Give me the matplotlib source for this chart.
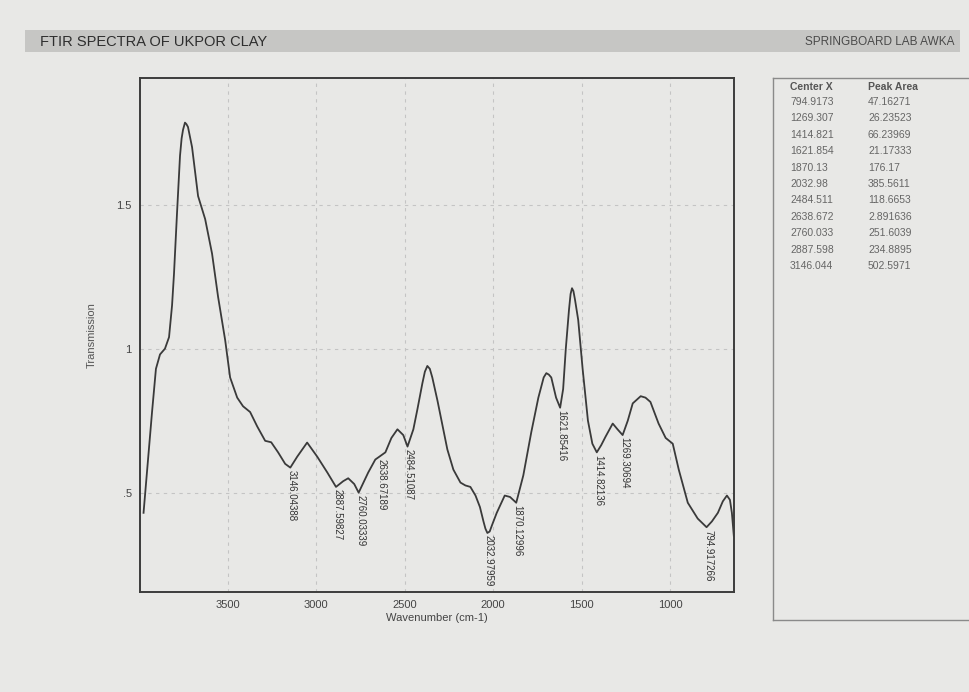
import matplotlib
matplotlib.use("Agg")
import matplotlib.pyplot as plt
from matplotlib.patches import Rectangle

plt.rcParams['font.family'] = ['Liberation Sans', 'DejaVu Sans']

# ---- data ----
wavenumber = [3975, 3927, 3905, 3882, 3854, 3831, 3814, 3803, 3786, 3769, 3760, 3752, 3741, 3733, 3724,
              3701, 3667, 3627, 3588, 3554, 3514, 3486, 3446, 3413, 3373, 3333, 3288, 3254,
              3215, 3175, 3146, 3107, 3051, 2994, 2937, 2888, 2847, 2819, 2785, 2760, 2706,
              2666, 2643, 2609, 2575, 2541, 2508, 2484, 2451, 2428, 2400, 2386, 2372, 2358, 2344, 2315,
              2259, 2225, 2185, 2157, 2129, 2100, 2075, 2055, 2044, 2033, 2020, 2005, 1980, 1935, 1905,
              1870, 1830, 1785, 1745, 1715, 1700, 1686, 1672, 1645, 1622, 1605, 1590, 1572, 1563, 1555,
              1547, 1538, 1520, 1495, 1465, 1440, 1415, 1390, 1365, 1325, 1298, 1269, 1240, 1212, 1167,
              1140, 1112, 1066, 1026, 986, 952, 901, 845, 795, 765, 731, 703, 680, 663, 652, 641]
transmission = [0.43, 0.78, 0.93, 0.98, 1.00, 1.04, 1.15, 1.26, 1.47, 1.67, 1.73, 1.76, 1.785, 1.78, 1.77,
                1.70, 1.53, 1.45, 1.33, 1.18, 1.03, 0.90, 0.83, 0.80, 0.78, 0.73, 0.68, 0.675,
                0.64, 0.60, 0.587, 0.625, 0.674, 0.625, 0.57, 0.52, 0.54, 0.55, 0.53, 0.50, 0.57,
                0.615, 0.625, 0.64, 0.69, 0.72, 0.70, 0.66, 0.72, 0.79, 0.88, 0.92, 0.94, 0.93, 0.90, 0.82,
                0.65, 0.58, 0.535, 0.525, 0.52, 0.49, 0.45, 0.40, 0.375, 0.36, 0.365, 0.39, 0.43, 0.49, 0.485,
                0.465, 0.56, 0.71, 0.83, 0.90, 0.915, 0.91, 0.90, 0.83, 0.795, 0.86, 1.0, 1.135, 1.19, 1.21,
                1.20, 1.17, 1.10, 0.93, 0.75, 0.67, 0.64, 0.665, 0.695, 0.74, 0.72, 0.70, 0.75, 0.81, 0.835,
                0.83, 0.815, 0.74, 0.69, 0.67, 0.58, 0.465, 0.41, 0.38, 0.40, 0.43, 0.47, 0.49, 0.475, 0.43, 0.35]

peak_labels = ['3146.04388', '2887.59827', '2760.03339', '2638.67189', '2484.51087',
               '2032.97959', '1870.12996', '1621.85416', '1414.82136', '1269.30694', '794.917266']
peak_x = [3146.04, 2887.60, 2760.03, 2638.67, 2484.51, 2032.98, 1870.13, 1621.85, 1414.82, 1269.31, 794.92]
peak_y = [0.587, 0.52, 0.50, 0.625, 0.66, 0.36, 0.465, 0.795, 0.64, 0.70, 0.38]

table_center_x = ['794.9173', '1269.307', '1414.821', '1621.854', '1870.13', '2032.98',
                  '2484.511', '2638.672', '2760.033', '2887.598', '3146.044']
table_peak_area = ['47.16271', '26.23523', '66.23969', '21.17333', '176.17', '385.5611',
                   '118.6653', '2.891636', '251.6039', '234.8895', '502.5971']

x_ticks = [3500, 3000, 2500, 2000, 1500, 1000]
y_ticks = [0.5, 1.0, 1.5]
y_tick_labels = ['.5', '1', '1.5']

# ---- figure ----
W, H = 970, 692
paper = '#e8e8e6'
fig = plt.figure(figsize=(W / 100, H / 100), dpi=100, facecolor=paper)

def fx(px):
    return px / W

def fy(py):
    return 1 - py / H

# header band
fig.patches.append(Rectangle((fx(25), fy(52)), fx(935), 22 / H, transform=fig.transFigure,
                             facecolor='#c6c6c4', edgecolor='none', zorder=0))
fig.text(fx(40), fy(42), 'FTIR SPECTRA OF UKPOR CLAY', fontsize=10.5, color='#2e2e2e',
         va='center', ha='left')
fig.text(fx(955), fy(42), 'SPRINGBOARD LAB AWKA', fontsize=8.5, color='#4a4a4a',
         va='center', ha='right')

# main axes
ax = fig.add_axes([fx(140), fy(592), fx(734 - 140), (592 - 78) / H])
ax.set_facecolor(paper)
ax.plot(wavenumber, transmission, color='#3a3a3a', lw=1.3, solid_joinstyle='round')
ax.set_xlim(3995, 640)
ax.set_ylim(0.155, 1.94)
ax.set_xticks(x_ticks)
ax.set_xticklabels([str(t) for t in x_ticks])
ax.set_yticks(y_ticks)
ax.set_yticklabels(y_tick_labels)
ax.tick_params(length=0, labelsize=8, colors='#444444', pad=6)
ax.grid(True, ls=(0, (3, 4)), color='#c4c4c4', lw=0.8)
for s in ax.spines.values():
    s.set_color('#3c3c3c')
    s.set_linewidth(1.4)
ax.set_xlabel('Wavenumber (cm-1)', fontsize=8, color='#444444', labelpad=2)
ax.set_ylabel('Transmission', fontsize=8, color='#555555', labelpad=14)

for lab, x, y in zip(peak_labels, peak_x, peak_y):
    ax.text(x - 8, y - 0.008, lab, rotation=270, rotation_mode='anchor', ha='left', va='center',
            fontsize=7, color='#333333')

# table panel
tab = fig.add_axes([fx(773), fy(620), fx(970 - 773), (620 - 78) / H])
tab.set_facecolor(paper)
tab.set_xlim(0, 1)
tab.set_ylim(0, 1)
tab.set_xticks([])
tab.set_yticks([])
for k, s in tab.spines.items():
    s.set_color('#8a8a8a')
    s.set_linewidth(1.0)
tab.spines['right'].set_visible(False)

def ty(py):
    return (620 - py) / (620 - 78)

col1 = (790 - 773) / (970 - 773)
col2 = (868 - 773) / (970 - 773)
tab.text(col1, ty(87), 'Center X', fontsize=7.5, weight='bold',
         color='#555555', va='center', ha='left')
tab.text(col2, ty(87), 'Peak Area', fontsize=7.5, weight='bold',
         color='#555555', va='center', ha='left')
for i, (cx, pa) in enumerate(zip(table_center_x, table_peak_area)):
    yy = ty(102 + i * 16.4)
    tab.text(col1, yy, cx, fontsize=7.5, color='#666666', va='center', ha='left')
    tab.text(col2, yy, pa, fontsize=7.5, color='#666666', va='center', ha='left')

fig.savefig('out.png', dpi=100, facecolor=paper)
